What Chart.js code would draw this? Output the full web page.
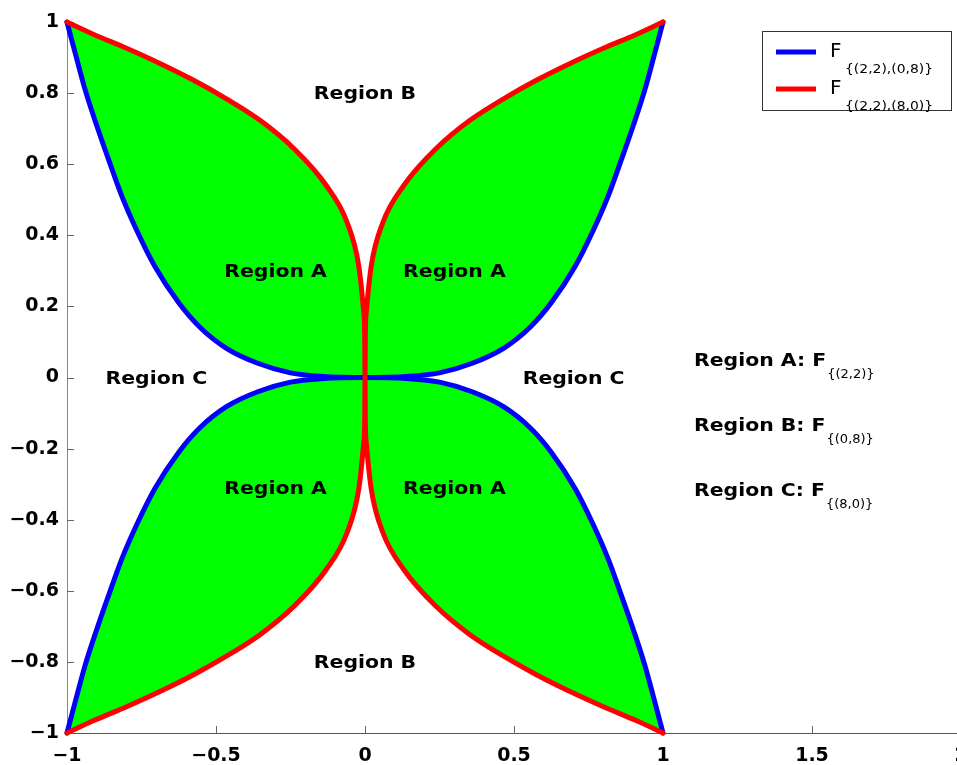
<!DOCTYPE html>
<html lang="en">
<head>
    <meta charset="UTF-8">
    <title>Regions A, B, C</title>
    <style>
        html, body {
            margin: 0;
            padding: 0;
            background: #fff;
            overflow: hidden;
        }
        .chart-box {
            width: 1000px;
            height: 765px;
        }
    </style>
</head>
<body>

<div class="chart-box">
    <canvas id="regionChart" width="1000" height="765"></canvas>
</div>

<script src="https://cdn.jsdelivr.net/npm/chart.js"></script>
<script>
    // upper-left quarter of each boundary (x runs -1 -> 0)
    const blueX = [-1, -0.97, -0.94, -0.90, -0.855, -0.815, -0.765, -0.705, -0.625, -0.555, -0.465, -0.36, -0.25, -0.14, 0];
    const blueY = [1, 0.905, 0.812, 0.708, 0.600, 0.508, 0.412, 0.312, 0.210, 0.142, 0.082, 0.040, 0.013, 0.003, 0];
    const redX = [-1, -0.91, -0.80, -0.69, -0.575, -0.465, -0.35, -0.24, -0.13, -0.06, -0.021, -0.005, -0.001, 0];
    const redY = [1, 0.965, 0.926, 0.884, 0.836, 0.784, 0.722, 0.645, 0.540, 0.436, 0.314, 0.19, 0.12, 0];

    const xTicks = [-1, -0.5, 0, 0.5, 1, 1.5, 2];
    const yTicks = [-1, -0.8, -0.6, -0.4, -0.2, 0, 0.2, 0.4, 0.6, 0.8, 1];

    const regionNames = ['Region A', 'Region A', 'Region A', 'Region A', 'Region B', 'Region B', 'Region C', 'Region C'];
    const regionX = [-0.3, 0.3, -0.3, 0.3, 0, 0, -0.7, 0.7];
    const regionY = [0.3, 0.3, -0.31, -0.31, 0.8, -0.8, 0, 0];

    const keyText = ['Region A: F', 'Region B: F', 'Region C: F'];
    const keySub = ['{(2,2)}', '{(0,8)}', '{(8,0)}'];
    const keyX = 1.104;
    const keyY = [0.049, -0.133, -0.317];

    const legendSub = ['{(2,2),(0,8)}', '{(2,2),(8,0)}'];

    // mirror a quarter into the quadrant given by signs sx, sy
    function quarter(xs, ys, sx, sy) {
        return xs.map((x, i) => ({x: sx * x, y: sy * ys[i]}));
    }

    // left corner -> origin -> right corner, x always increasing
    function branch(xs, ys, sy) {
        const left = quarter(xs, ys, 1, sy);
        const right = quarter(xs, ys, -1, sy).reverse().slice(1);
        return left.concat(right);
    }

    function stretchText(ctx, text, x, y, font, sx, align) {
        ctx.save();
        ctx.font = font;
        const w = ctx.measureText(text).width * sx;
        const left = align === 'center' ? x - w / 2 : x;
        ctx.translate(left, y);
        ctx.scale(sx, 1);
        ctx.textAlign = 'left';
        ctx.textBaseline = 'alphabetic';
        ctx.fillText(text, 0, 0);
        ctx.restore();
        return left + w;
    }

    const inwardTicks = {
        id: 'inwardTicks',
        beforeDatasetsDraw(chart) {
            const ctx = chart.ctx;
            const xs = chart.scales.x, ys = chart.scales.y;
            const area = chart.chartArea;
            ctx.save();
            ctx.strokeStyle = '#666';
            ctx.lineWidth = 1;
            ctx.beginPath();
            xTicks.forEach(v => {
                const px = Math.round(xs.getPixelForValue(v)) + 0.5;
                ctx.moveTo(px, area.bottom);
                ctx.lineTo(px, area.bottom - 7);
            });
            yTicks.forEach(v => {
                const py = Math.round(ys.getPixelForValue(v)) + 0.5;
                ctx.moveTo(area.left, py);
                ctx.lineTo(area.left + 7, py);
            });
            ctx.stroke();
            ctx.restore();
        }
    };

    const annotations = {
        id: 'annotations',
        afterDatasetsDraw(chart) {
            const ctx = chart.ctx;
            const xs = chart.scales.x, ys = chart.scales.y;
            ctx.save();
            ctx.fillStyle = '#000';

            regionNames.forEach((name, i) => {
                stretchText(ctx, name, xs.getPixelForValue(regionX[i]), ys.getPixelForValue(regionY[i]) + 6,
                    'bold 17px "DejaVu Sans"', 1.2, 'center');
            });

            keyText.forEach((txt, i) => {
                const base = ys.getPixelForValue(keyY[i]) + 6;
                const end = stretchText(ctx, txt, xs.getPixelForValue(keyX), base, 'bold 17px "DejaVu Sans"', 1.2, 'left');
                stretchText(ctx, keySub[i], end + 1, base + 12, '13px "DejaVu Sans"', 1.0, 'left');
            });

            // legend box
            ctx.fillStyle = '#fff';
            ctx.fillRect(762, 31, 189, 79);
            ctx.strokeStyle = '#333';
            ctx.lineWidth = 1;
            ctx.strokeRect(762.5, 31.5, 189, 79);
            const legendColors = ['#0000ff', '#ff0000'];
            const rowY = [52, 89];
            legendColors.forEach((c, i) => {
                ctx.strokeStyle = c;
                ctx.lineWidth = 5;
                ctx.beginPath();
                ctx.moveTo(776, rowY[i]);
                ctx.lineTo(816, rowY[i]);
                ctx.stroke();
                ctx.fillStyle = '#000';
                stretchText(ctx, 'F', 830, rowY[i] + 5, '20px "DejaVu Sans"', 1.0, 'left');
                stretchText(ctx, legendSub[i], 845, rowY[i] + 20.5, '13px "DejaVu Sans"', 1.07, 'left');
            });
            ctx.restore();
        }
    };

    const tickFont = {family: 'DejaVu Sans', weight: 'bold', size: 19};
    const minus = v => String(Number(v.toFixed(2))).replace('-', '\u2212');

    function curve(points, color, fillTo) {
        return {
            data: points,
            borderColor: color,
            borderWidth: 5,
            cubicInterpolationMode: 'monotone',
            backgroundColor: '#00ff00',
            fill: fillTo === undefined ? false : fillTo,
            clip: false
        };
    }

    const ctx = document.getElementById('regionChart').getContext('2d');
    const chart = new Chart(ctx, {
        type: 'line',
        data: {
            datasets: [
                curve(branch(redX, redY, 1), '#ff0000', 2),    // upper red, green down to upper blue
                curve(branch(redX, redY, -1), '#ff0000', 3),   // lower red, green up to lower blue
                curve(branch(blueX, blueY, 1), '#0000ff'),
                curve(branch(blueX, blueY, -1), '#0000ff')
            ]
        },
        options: {
            responsive: false,
            animation: false,
            events: [],
            layout: {
                padding: {top: 22, right: 39, left: 0, bottom: 0}
            },
            elements: {
                point: {radius: 0},
                line: {borderCapStyle: 'round', borderJoinStyle: 'round'}
            },
            plugins: {
                legend: {display: false},
                tooltip: {enabled: false},
                filler: {drawTime: 'beforeDatasetsDraw'}
            },
            scales: {
                x: {
                    type: 'linear',
                    min: -1,
                    max: 2,
                    grid: {display: false, drawTicks: false},
                    border: {display: true, color: '#555', width: 1},
                    ticks: {
                        font: tickFont,
                        color: '#000',
                        padding: 12,
                        maxRotation: 0,
                        autoSkip: false,
                        callback: minus
                    },
                    afterBuildTicks: s => { s.ticks = xTicks.map(v => ({value: v})); },
                    afterFit: s => { s.height = 32; s.paddingLeft = 0; s.paddingRight = 0; }
                },
                y: {
                    type: 'linear',
                    min: -1,
                    max: 1,
                    grid: {display: false, drawTicks: false},
                    border: {display: true, color: '#888', width: 1},
                    ticks: {
                        font: tickFont,
                        color: '#000',
                        padding: 8,
                        autoSkip: false,
                        callback: minus
                    },
                    afterBuildTicks: s => { s.ticks = yTicks.map(v => ({value: v})); },
                    afterFit: s => { s.width = 67; s.paddingTop = 0; s.paddingBottom = 0; }
                }
            }
        },
        plugins: [inwardTicks, annotations]
    });
</script>

</body>
</html>
